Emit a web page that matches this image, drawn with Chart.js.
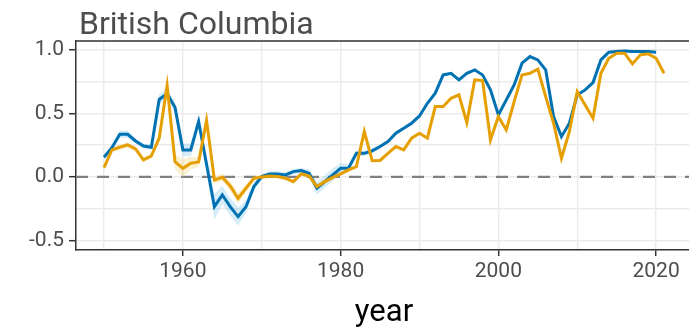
<!DOCTYPE html>
<html>
<head>
<meta charset="utf-8">
<script src="https://cdn.jsdelivr.net/npm/chart.js@4/dist/chart.umd.min.js"></script>
<style>
  html, body { margin: 0; padding: 0; background: #fff; overflow: hidden; }
  #wrap { position: relative; width: 695px; height: 329px; }
</style>
</head>
<body>
<div id="wrap"><canvas id="chart"></canvas></div>
<script>
// values
const years = [];
for (let y = 1950; y <= 2021; y++) years.push(y);

const blueValues = [
  0.155, 0.23, 0.336, 0.336, 0.283, 0.244, 0.234, 0.61, 0.655, 0.549,   // 1950-1959
  0.213, 0.213, 0.436, 0.10, -0.234, -0.142, -0.234, -0.312, -0.234, -0.076, // 1960-1969
  0.003, 0.024, 0.024, 0.016, 0.042, 0.05, 0.029, -0.089, -0.037, 0.016, // 1970-1979
  0.068, 0.068, 0.186, 0.186, 0.205, 0.239, 0.278, 0.344, 0.383, 0.423, // 1980-1989
  0.48, 0.58, 0.659, 0.803, 0.816, 0.764, 0.816, 0.843, 0.803, 0.685,    // 1990-1999
  0.488, 0.606, 0.724, 0.895, 0.948, 0.921, 0.843, 0.475, 0.317, 0.423,  // 2000-2009
  0.646, 0.685, 0.743, 0.921, 0.982, 0.987, 0.992, 0.987, 0.987, 0.987,  // 2010-2019
  0.982, null                                                            // 2020-2021
];
const blueSpread = [
  0.02, 0.02, 0.03, 0.03, 0.02, 0.02, 0.02, 0.04, 0.04, 0.04,
  0.05, 0.05, 0.05, 0.06, 0.10, 0.07, 0.07, 0.07, 0.05, 0.03,
  0.02, 0.02, 0.02, 0.02, 0.02, 0.02, 0.03, 0.05, 0.05, 0.05,
  0.04, 0.03, 0.02, 0.02, 0.02, 0.015, 0.015, 0.015, 0.015, 0.015,
  0.01, 0.01, 0.01, 0.01, 0.01, 0.01, 0.01, 0.01, 0.01, 0.01,
  0.01, 0.01, 0.01, 0.01, 0.01, 0.01, 0.01, 0.01, 0.01, 0.01,
  0.01, 0.01, 0.01, 0.01, 0.01, 0.01, 0.01, 0.01, 0.01, 0.01,
  0.01, null
];
const orangeValues = [
  0.073, 0.213, 0.234, 0.252, 0.22, 0.134, 0.165, 0.305, 0.72, 0.12,     // 1950-1959
  0.068, 0.108, 0.118, 0.445, -0.024, -0.003, -0.071, -0.168, -0.089, -0.011, // 1960-1969
  0.0, 0.008, 0.003, -0.01, -0.037, 0.024, 0.008, -0.076, -0.037, -0.003, // 1970-1979
  0.024, 0.055, 0.081, 0.357, 0.128, 0.13, 0.186, 0.239, 0.213, 0.305,  // 1980-1989
  0.344, 0.305, 0.554, 0.554, 0.619, 0.646, 0.428, 0.764, 0.758, 0.291, // 1990-1999
  0.475, 0.37, 0.593, 0.803, 0.816, 0.848, 0.632, 0.423, 0.147, 0.357,  // 2000-2009
  0.672, 0.567, 0.462, 0.816, 0.934, 0.974, 0.974, 0.89, 0.961, 0.969,  // 2010-2019
  0.934, 0.816                                                          // 2020-2021
];
const orangeSpread = [
  0.02, 0.02, 0.02, 0.02, 0.02, 0.02, 0.02, 0.03, 0.05, 0.06,
  0.07, 0.05, 0.04, 0.03, 0.03, 0.03, 0.04, 0.04, 0.03, 0.02,
  0.02, 0.015, 0.015, 0.015, 0.015, 0.015, 0.02, 0.02, 0.02, 0.02,
  0.015, 0.015, 0.015, 0.015, 0.01, 0.01, 0.01, 0.01, 0.01, 0.01,
  0.01, 0.01, 0.01, 0.01, 0.01, 0.01, 0.01, 0.01, 0.01, 0.01,
  0.01, 0.01, 0.01, 0.01, 0.01, 0.01, 0.01, 0.01, 0.01, 0.01,
  0.01, 0.01, 0.01, 0.01, 0.01, 0.01, 0.01, 0.01, 0.01, 0.01,
  0.01, 0.01
];

const xTickValues = [1950, 1960, 1970, 1980, 1990, 2000, 2010, 2020];
const xLabelled = [1960, 1980, 2000, 2020];
const yTickValues = [-0.5, -0.25, 0, 0.25, 0.5, 0.75, 1.0];
const chartTitle = "British Columbia";

const BLUE = "#0072B2";
const ORANGE = "#E69F00";
const FONT = "Roboto";

function points(vals, offs, sign) {
  return years.map((yr, i) => ({
    x: yr,
    y: vals[i] == null ? null : vals[i] + sign * (offs ? offs[i] : 0)
  }));
}

const isMajorY = (v) => Math.abs(v * 2 - Math.round(v * 2)) < 1e-6;

// title + panel top border + dashed zero line
const extras = {
  id: "extras",
  beforeDatasetsDraw(chart) {
    const { ctx, chartArea: a, scales } = chart;
    const y0 = scales.y.getPixelForValue(0);
    ctx.save();
    ctx.strokeStyle = "#808080";
    ctx.lineWidth = 2.2;
    ctx.setLineDash([12, 9]);
    ctx.beginPath();
    ctx.moveTo(a.left, y0);
    ctx.lineTo(a.right, y0);
    ctx.stroke();
    ctx.restore();
  },
  afterDraw(chart) {
    const { ctx, chartArea: a } = chart;
    ctx.save();
    ctx.strokeStyle = "#333";
    ctx.lineWidth = 1.5;
    ctx.beginPath();
    ctx.moveTo(a.left, a.top);
    ctx.lineTo(a.right, a.top);
    ctx.moveTo(a.right, a.top);
    ctx.lineTo(a.right, a.bottom);
    ctx.stroke();
    ctx.fillStyle = "#4d4d4d";
    ctx.font = `32px ${FONT}`;
    ctx.textBaseline = "alphabetic";
    ctx.fillText(chartTitle, 79, 34);
    ctx.restore();
  }
};

new Chart(document.getElementById("chart"), {
  type: "line",
  data: {
    datasets: [
      { data: points(orangeValues, null, 0), borderColor: ORANGE, borderWidth: 3, pointRadius: 0, tension: 0, fill: false, order: 1 },
      { data: points(blueValues, null, 0), borderColor: BLUE, borderWidth: 3, pointRadius: 0, tension: 0, fill: false, order: 2 },
      { data: points(blueValues, blueSpread, 1), borderWidth: 0, pointRadius: 0, fill: "+1", backgroundColor: "rgba(86,180,233,0.25)", order: 5 },
      { data: points(blueValues, blueSpread, -1), borderWidth: 0, pointRadius: 0, fill: false, order: 5 },
      { data: points(orangeValues, orangeSpread, 1), borderWidth: 0, pointRadius: 0, fill: "+1", backgroundColor: "rgba(240,200,90,0.28)", order: 4 },
      { data: points(orangeValues, orangeSpread, -1), borderWidth: 0, pointRadius: 0, fill: false, order: 4 }
    ]
  },
  options: {
    responsive: true,
    maintainAspectRatio: false,
    animation: false,
    spanGaps: false,
    layout: { padding: { top: 41, right: 3, left: 0, bottom: 0 } },
    plugins: { legend: { display: false }, tooltip: { enabled: false }, title: { display: false } },
    scales: {
      x: {
        type: "linear",
        min: 1946.45,
        max: 2024.55,
        afterBuildTicks: (s) => { s.ticks = xTickValues.map((v) => ({ value: v })); },
        afterFit: (s) => { s.height = 79; },
        border: { display: true, color: "#333", width: 1.5 },
        grid: {
          color: "#ebebeb",
          lineWidth: 1.4,
          tickLength: 6,
          tickColor: (c) => (xLabelled.includes(c.tick.value) ? "#333" : "rgba(0,0,0,0)"),
          tickWidth: 1.5
        },
        ticks: {
          padding: 3,
          color: "#4d4d4d",
          font: { family: FONT, size: 21 },
          maxRotation: 0,
          callback: (v) => (xLabelled.includes(v) ? String(v) : "")
        },
        title: { display: true, text: "year", color: "#000", font: { family: FONT, size: 31 }, padding: { top: 0, bottom: -3 } }
      },
      y: {
        min: -0.575,
        max: 1.07,
        afterBuildTicks: (s) => { s.ticks = yTickValues.map((v) => ({ value: v })); },
        afterFit: (s) => { s.width = 76; },
        border: { display: true, color: "#333", width: 1.5 },
        grid: {
          color: "#ebebeb",
          lineWidth: 1.4,
          tickLength: 7,
          tickColor: (c) => (isMajorY(c.tick.value) ? "#333" : "rgba(0,0,0,0)"),
          tickWidth: 1.5
        },
        ticks: {
          padding: 5,
          color: "#4d4d4d",
          font: { family: FONT, size: 21 },
          callback: (v) => (isMajorY(v) ? v.toFixed(1) : "")
        }
      }
    }
  },
  plugins: [extras]
});
</script>
</body>
</html>
